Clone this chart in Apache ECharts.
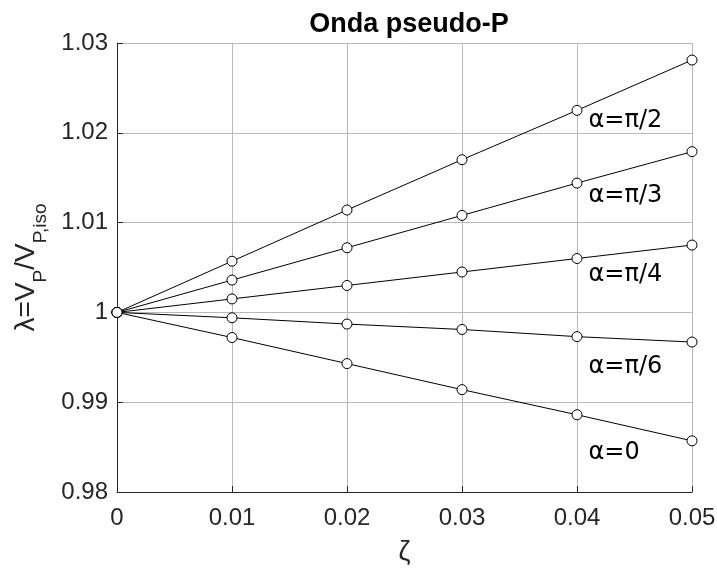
<!DOCTYPE html>
<html>
<head>
<meta charset="utf-8">
<script src="https://cdn.jsdelivr.net/npm/echarts@6/dist/echarts.min.js"></script>
<style>
html, body { margin: 0; padding: 0; background: #fff; }
#chart { width: 717px; height: 570px; }
</style>
</head>
<body>
<div id="chart"></div>
<script>
// ζ values on the x axis
const zeta = [0, 0.01, 0.02, 0.03, 0.04, 0.05]
// λ = V_P / V_P,iso for each α
const lambdaPi2 = [1, 1.0057, 1.0114, 1.0170, 1.0225, 1.0281]
const lambdaPi3 = [1, 1.0036, 1.0072, 1.0108, 1.0144, 1.0179]
const lambdaPi4 = [1, 1.0015, 1.0030, 1.0045, 1.0060, 1.0075]
const lambdaPi6 = [1, 0.9994, 0.9987, 0.9981, 0.9973, 0.9967]
const lambda0 = [1, 0.9972, 0.9943, 0.9914, 0.9886, 0.9857]
const curveNames = ['α=π/2', 'α=π/3', 'α=π/4', 'α=π/6', 'α=0']
const curves = [lambdaPi2, lambdaPi3, lambdaPi4, lambdaPi6, lambda0]

const fontMain = 'Liberation Sans, Helvetica, Arial, sans-serif'
// vertical shift of each curve label below its 0.04 point
const labelShift = [10, 13, 16, 30, 38]

let series = curves.map((vals, k) => {
    let data = zeta.map((z, i) => {
        if (i === 4) {
            return {
                value: [z, vals[i]],
                label: {
                    show: true,
                    formatter: curveNames[k],
                    position: 'right',
                    distance: 6,
                    offset: [0, labelShift[k]],
                    color: '#000',
                    fontFamily: 'DejaVu Sans, sans-serif',
                    fontSize: 24
                }
            }
        }
        return [z, vals[i]]
    })
    return {
        name: curveNames[k],
        type: 'line',
        data: data,
        symbol: 'circle',
        symbolSize: 10,
        lineStyle: { color: '#000', width: 1 },
        itemStyle: { color: '#fff', borderColor: '#000', borderWidth: 1 },
        label: { show: false },
        emphasis: { disabled: true },
        animation: false,
        z: 3
    }
})

let option = {
    backgroundColor: '#fff',
    animation: false,
    title: {
        text: 'Onda pseudo-P',
        left: 404,
        textAlign: 'center',
        top: 6,
        textStyle: {
            fontFamily: fontMain,
            fontSize: 27,
            fontWeight: 'bold',
            color: '#000'
        }
    },
    grid: {
        left: 117,
        right: 25,
        top: 43,
        bottom: 78,
        containLabel: false,
        outerBoundsMode: 'none'
    },
    xAxis: {
        type: 'value',
        min: 0,
        max: 0.05,
        interval: 0.01,
        name: 'ζ',
        nameLocation: 'middle',
        nameGap: 47,
        nameTextStyle: { fontFamily: fontMain, fontSize: 27, color: '#262626' },
        axisLine: { show: true, lineStyle: { color: '#262626', width: 1 } },
        axisTick: { show: true, inside: true, length: 6, lineStyle: { color: '#262626' } },
        axisLabel: {
            fontFamily: fontMain,
            fontSize: 24,
            color: '#262626',
            margin: 14,
            formatter: (v) => String(+v.toFixed(2))
        },
        splitLine: { show: true, lineStyle: { color: '#b8b8b8', width: 1 } }
    },
    yAxis: {
        type: 'value',
        min: 0.98,
        max: 1.03,
        interval: 0.01,
        name: '{m|λ=V}{s|P}{m|/V}{s|P,iso}',
        nameLocation: 'middle',
        nameGap: 68,
        nameRotate: 90,
        nameTextStyle: {
            color: '#262626',
            rich: {
                m: { fontFamily: fontMain, fontSize: 28, color: '#262626', lineHeight: 32 },
                s: { fontFamily: fontMain, fontSize: 19, color: '#262626', lineHeight: 20, padding: [30, 0, 0, 0] }
            }
        },
        axisLine: { show: true, lineStyle: { color: '#262626', width: 1 } },
        axisTick: { show: true, inside: true, length: 6, lineStyle: { color: '#262626' } },
        axisLabel: {
            fontFamily: fontMain,
            fontSize: 24,
            color: '#262626',
            margin: 9,
            formatter: (v) => String(+v.toFixed(2))
        },
        splitLine: { show: true, lineStyle: { color: '#b8b8b8', width: 1 } }
    },
    series: series
}

let chart = echarts.init(document.getElementById('chart'), null, { renderer: 'canvas' })
chart.setOption(option)
</script>
</body>
</html>
